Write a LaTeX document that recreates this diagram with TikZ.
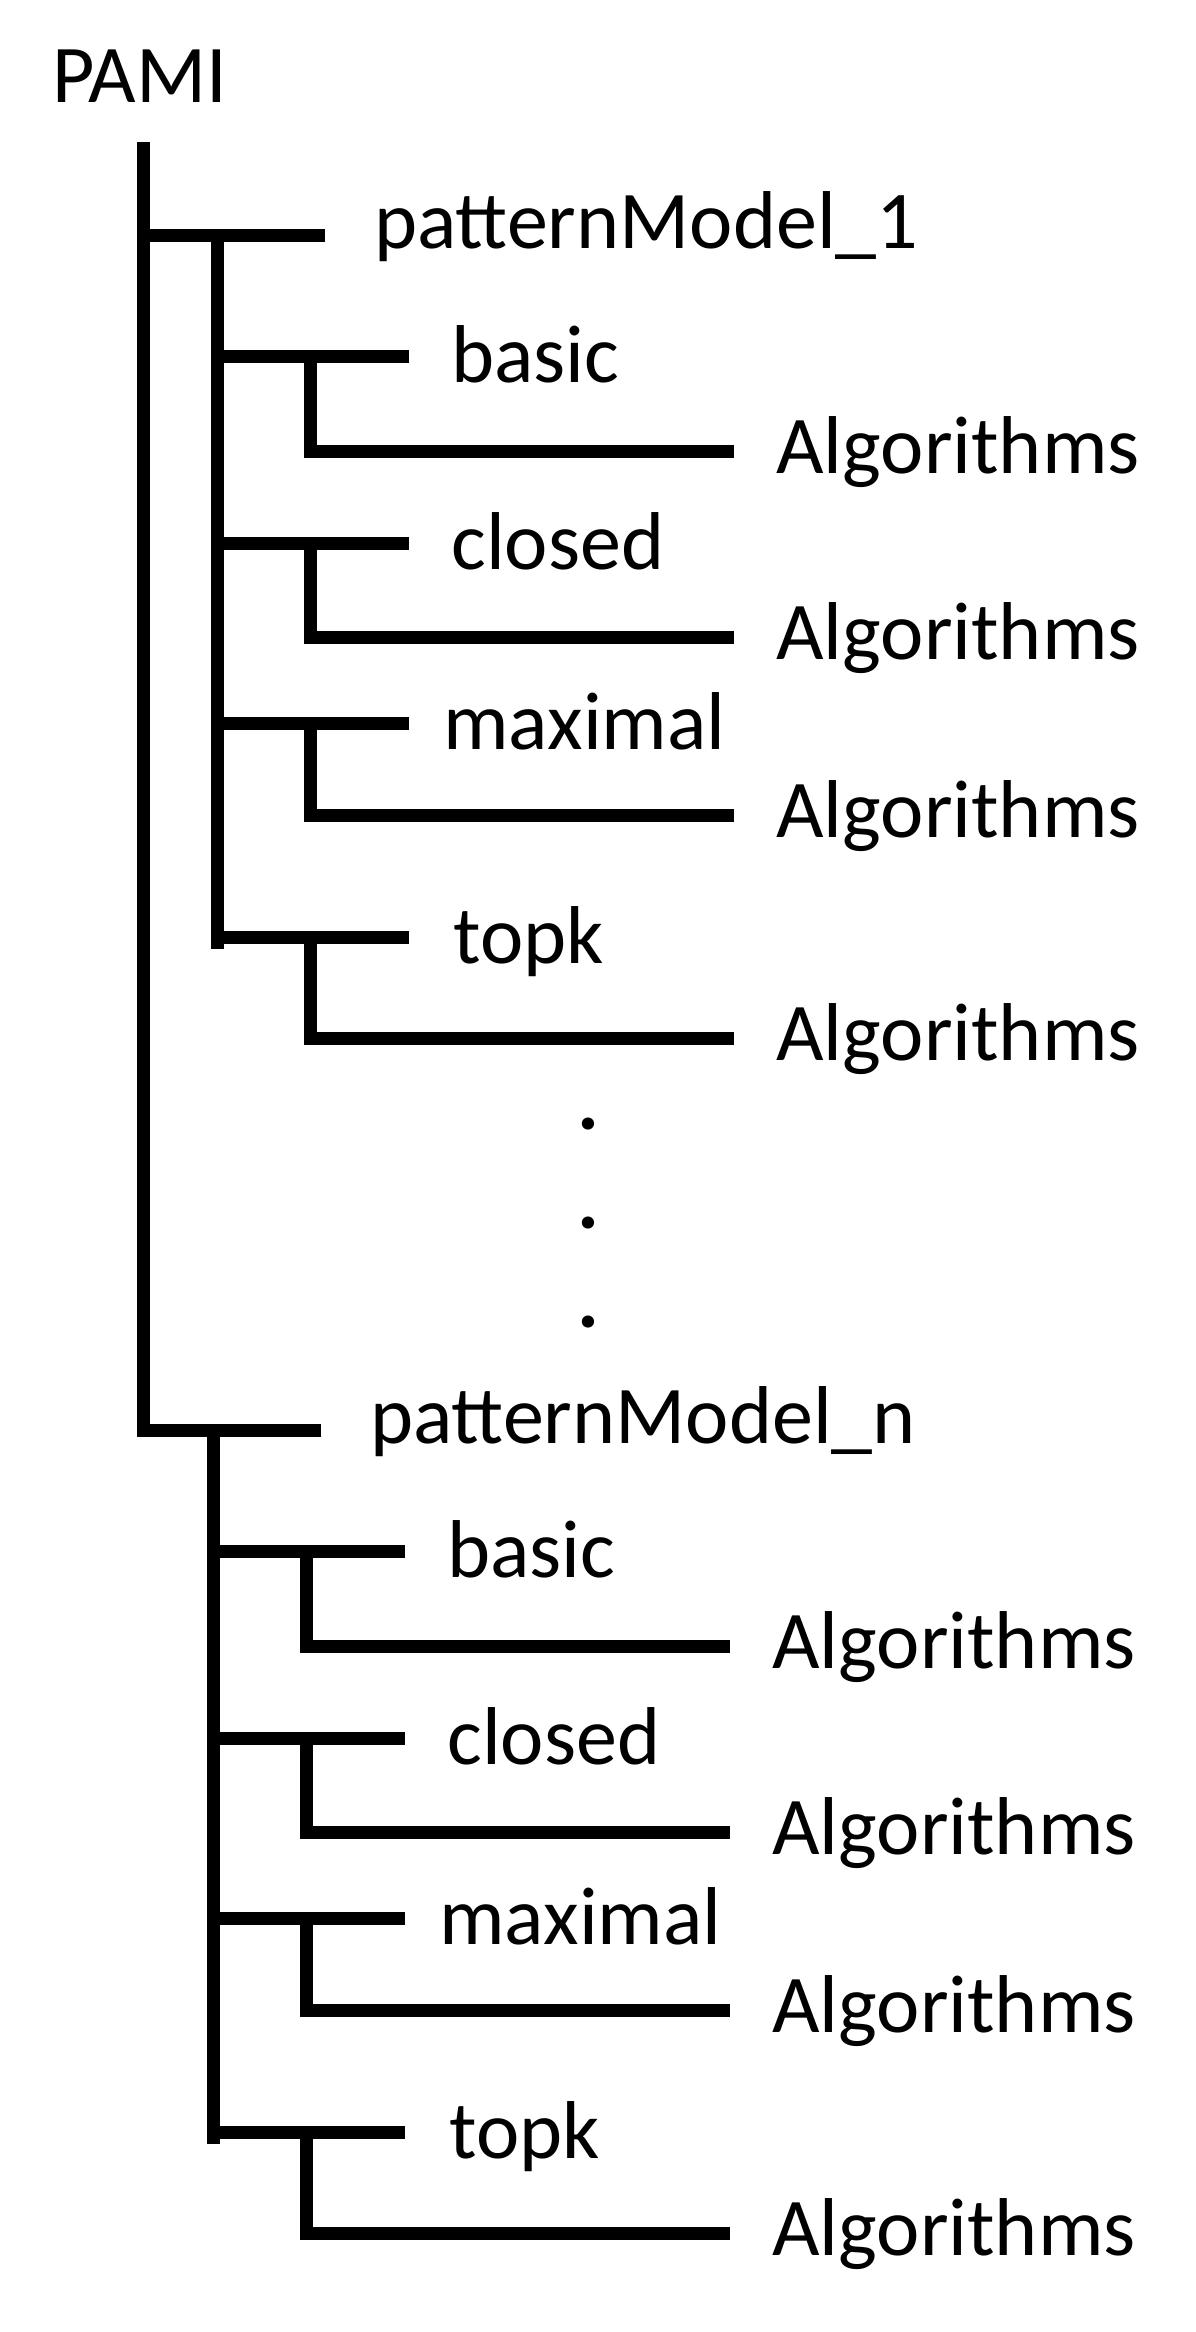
\documentclass[tikz,border=0pt]{standalone}
\usepackage{fontspec}
\setmainfont{Carlito}

\begin{document}
\begin{tikzpicture}[x=0.02cm, y=-0.02cm,
    every node/.style={font=\fontsize{46.7}{56}\selectfont, inner sep=0pt, anchor=base west},
    tree/.style={line width=0.26cm}]
  \useasboundingbox (0,0) rectangle (1196,2332);
  \node (pami) at (52, 103) {PAMI};
  \coordinate (trunk) at (143, 142);
  % one subtree per pattern model
  \foreach \g/\dx/\dy in {1/0/0, n/-4/1195} {
    \begin{scope}[shift={(\dx,\dy)}]
      \node (model\g) at (374, 248) {patternModel\_\g};
      \coordinate (fork\g) at (325, 235);
      \coordinate (stem\g) at (217, 235);
      \coordinate (stemend\g) at (217, 949);
      \draw[tree] (stem\g) -- (stemend\g);
      \foreach \kind/\ly/\ay/\lx in {basic/356/451/451, closed/543/637/451,
          maximal/723/815/443, topk/937/1038/453} {
        \node (\kind\g) at (\lx, \ly+26) {\kind};
        \node (alg\kind\g) at (776, \ay+22) {Algorithms};
        \coordinate (from\kind\g) at (217, \ly);
        \coordinate (to\kind\g) at (409, \ly);
        \coordinate (down\kind\g) at (310, \ly);
        \coordinate (out\kind\g) at (734, \ay);
        \draw[tree] (from\kind\g) -- (to\kind\g);
        \draw[tree] (down\kind\g) |- (out\kind\g);
      }
    \end{scope}
  }
  \draw[tree] (trunk) |- (forkn);
  \draw[tree] (trunk |- fork1) -- (fork1);
  % dots between the models
  \foreach \i/\y in {1/1129, 2/1228, 3/1327}
    \node[anchor=base, font=\fontsize{46.7}{56}\selectfont\bfseries] (dot\i) at (588, \y) {.};
\end{tikzpicture}
\end{document}
